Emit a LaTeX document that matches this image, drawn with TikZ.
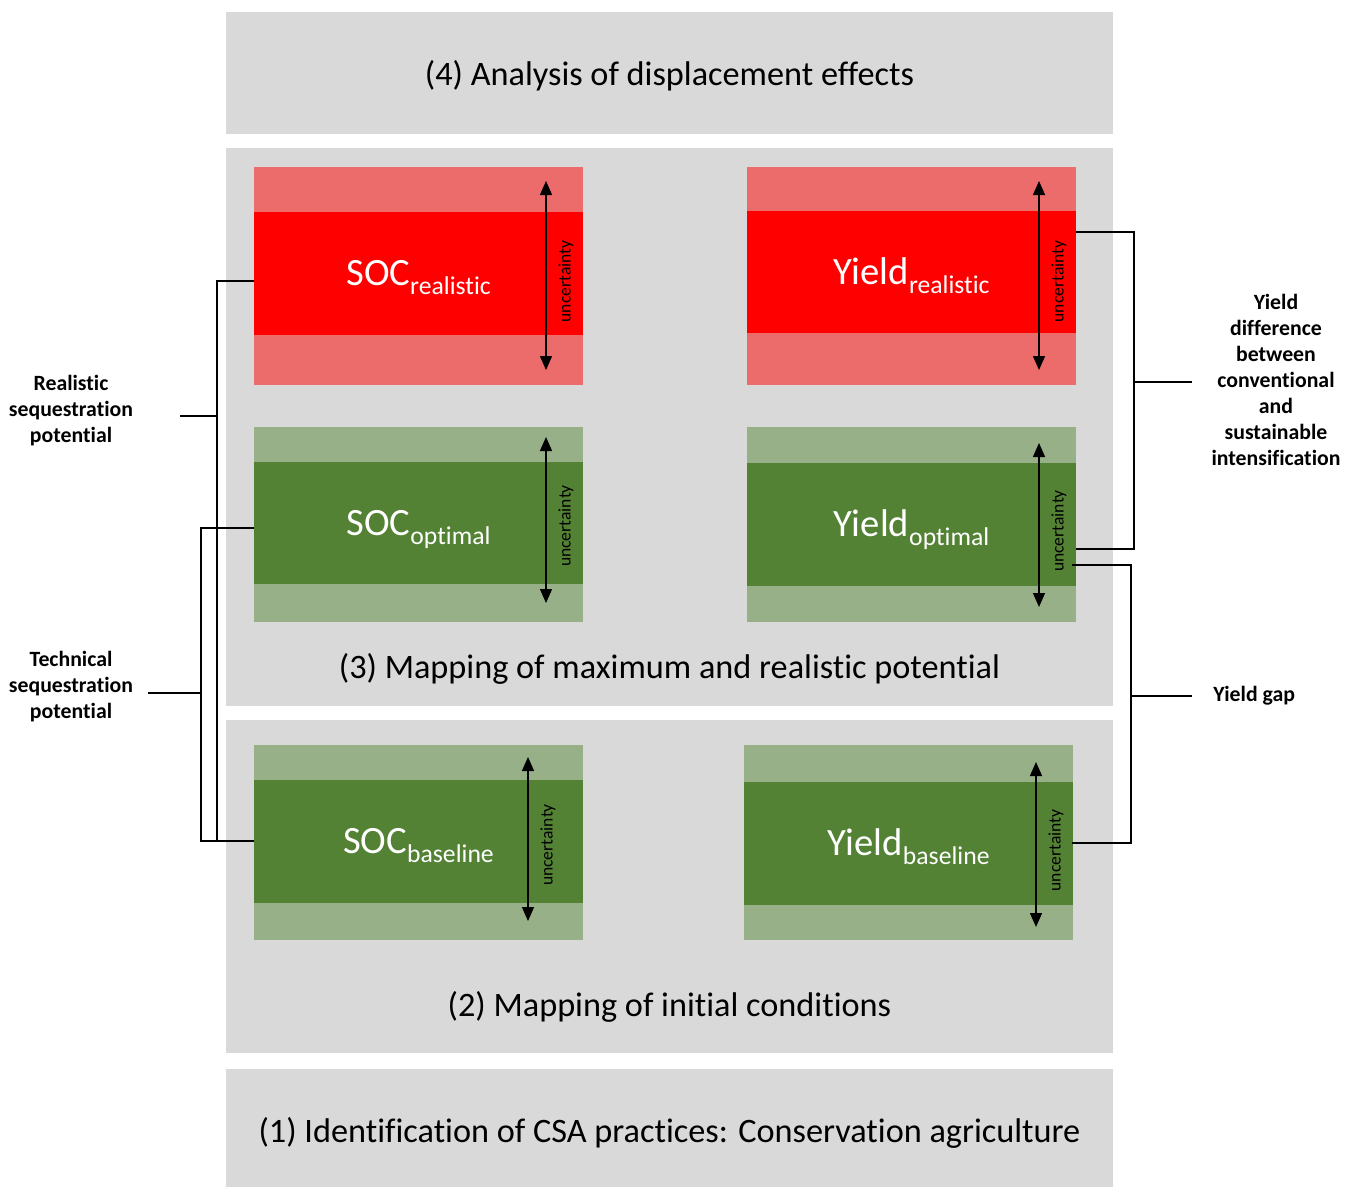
\documentclass[tikz,border=0pt]{standalone}
\usepackage{fontspec}
\setmainfont{Carlito}[Ligatures=NoCommon]
\usetikzlibrary{arrows.meta}
\definecolor{panelgray}{HTML}{D9D9D9}
\definecolor{palered}{HTML}{EC6B6B}
\definecolor{fullred}{HTML}{FF0000}
\definecolor{palegreen}{HTML}{97B087}
\definecolor{deepgreen}{HTML}{548235}
\newcommand{\lowtext}[1]{\raisebox{-5pt}{\fontsize{14.6}{17}\selectfont #1}}
\tikzset{
    panel/.style ={
        fill=panelgray,
        inner sep=0pt,
        minimum width=17.74cm
    },
    title/.style ={
        inner sep=0pt,
        font=\fontsize{19.5}{23}\selectfont
    },
    halo/.style ={
        inner sep=0pt,
        minimum width=6.58cm
    },
    core/.style ={
        inner sep=0pt,
        minimum width=6.58cm,
        minimum height=2.46cm,
        text height=16pt,
        text depth=1.8pt,
        text=white,
        font=\fontsize{22}{26}\selectfont
    },
    unc/.style ={
        line width=0.8pt,
        {Triangle[length=0.28cm,width=0.24cm]}-{Triangle[length=0.28cm,width=0.24cm]}
    },
    unclabel/.style ={
        rotate=90,
        inner sep=0pt,
        font=\fontsize{10}{12}\selectfont
    },
    bracket/.style ={
        line width=1.1pt
    },
    sidelabel/.style ={
        align=center,
        inner sep=0pt,
        font=\fontsize{12.4}{14.8}\selectfont\bfseries
    }
}

\begin{document}
\begin{tikzpicture}[x=0.02cm,y=-0.02cm]
    \useasboundingbox (0,0) rectangle (1353,1187);
    % panels
    \node[panel, minimum height=2.44cm] (p4) at (669.5,73) {};
    \node[panel, minimum height=11.16cm] (p3) at (669.5,427) {};
    \node[panel, minimum height=6.66cm] (p2) at (669.5,886.5) {};
    \node[panel, minimum height=2.36cm] (p1) at (669.5,1128) {};
    \node[title] (t4) at (669.5,75.5) {(4) Analysis of displacement effects};
    \node[title] (t3) at (669.5,669) {(3) Mapping of maximum and realistic potential};
    \node[title] (t2) at (669.5,1007) {(2) Mapping of initial conditions};
    \node[title] (t1) at (669.5,1133) {(1) Identification of CSA practices: Conservation agriculture};

    % boxes
    \node[halo, fill=palered, minimum height=4.36cm] (socRo) at (418.5,276) {};
    \node[core, fill=fullred] (socR) at (418.5,273.5) {SOC\lowtext{realistic}};
    \node[halo, fill=palered, minimum height=4.36cm] (yldRo) at (911.5,276) {};
    \node[core, fill=fullred] (yldR) at (911.5,272) {Yield\lowtext{realistic}};
    \node[halo, fill=palegreen, minimum height=3.9cm] (socOo) at (418.5,524.5) {};
    \node[core, fill=deepgreen] (socO) at (418.5,523) {SOC\lowtext{optimal}};
    \node[halo, fill=palegreen, minimum height=3.9cm] (yldOo) at (911.5,524.5) {};
    \node[core, fill=deepgreen] (yldO) at (911.5,524.5) {Yield\lowtext{optimal}};
    \node[halo, fill=palegreen, minimum height=3.9cm] (socBo) at (418.5,842.5) {};
    \node[core, fill=deepgreen] (socB) at (418.5,841) {SOC\lowtext{baseline}};
    \node[halo, fill=palegreen, minimum height=3.9cm] (yldBo) at (908.5,842.5) {};
    \node[core, fill=deepgreen] (yldB) at (908.5,843) {Yield\lowtext{baseline}};

    % uncertainty arrows
    \foreach \x/\a/\b [count=\i] in {546/181/370, 1039/181/370, 546/437/603, 1039/443/607, 528/757/921, 1036/762/927}{
        \draw[unc] (\x,\a) -- (\x,\b);
        \node[unclabel] (unc\i) at (\x+20,{(\a+\b)/2+6}) {uncertainty};
    }

    % side labels
    \node[sidelabel] (real) at (71,411) {Realistic\\sequestration\\potential};
    \node[sidelabel] (tech) at (71,687) {Technical\\sequestration\\potential};
    \node[sidelabel] (ydiff) at (1276,380) {Yield\\difference\\between\\conventional\\and\\sustainable\\intensification};
    \node[sidelabel, anchor=west] (ygap) at (1213,696) {Yield gap};

    % brackets
    \coordinate (realJ) at (217,416);
    \coordinate (techJ) at (201,693);
    \coordinate (diffJ) at (1134,382);
    \coordinate (gapJ) at (1131,696);
    \draw[bracket] ([yshift=-0.15cm]socR.west) -| (realJ) |- (socB.west);
    \draw[bracket] (realJ) -- ++(-37,0);
    \draw[bracket] ([yshift=-0.1cm]socO.west) -| (techJ) |- (socB.west);
    \draw[bracket] (techJ) -- ++(-53,0);
    \draw[bracket] ([yshift=0.8cm]yldR.east) -| (diffJ) |- ([yshift=-0.49cm]yldO.east);
    \draw[bracket] (diffJ) -- ++(58,0);
    \draw[bracket] ([xshift=-0.08cm,yshift=-0.81cm]yldO.east) -| (gapJ) |- ([xshift=-0.02cm]yldB.east);
    \draw[bracket] (gapJ) -- ++(61,0);
\end{tikzpicture}
\end{document}
